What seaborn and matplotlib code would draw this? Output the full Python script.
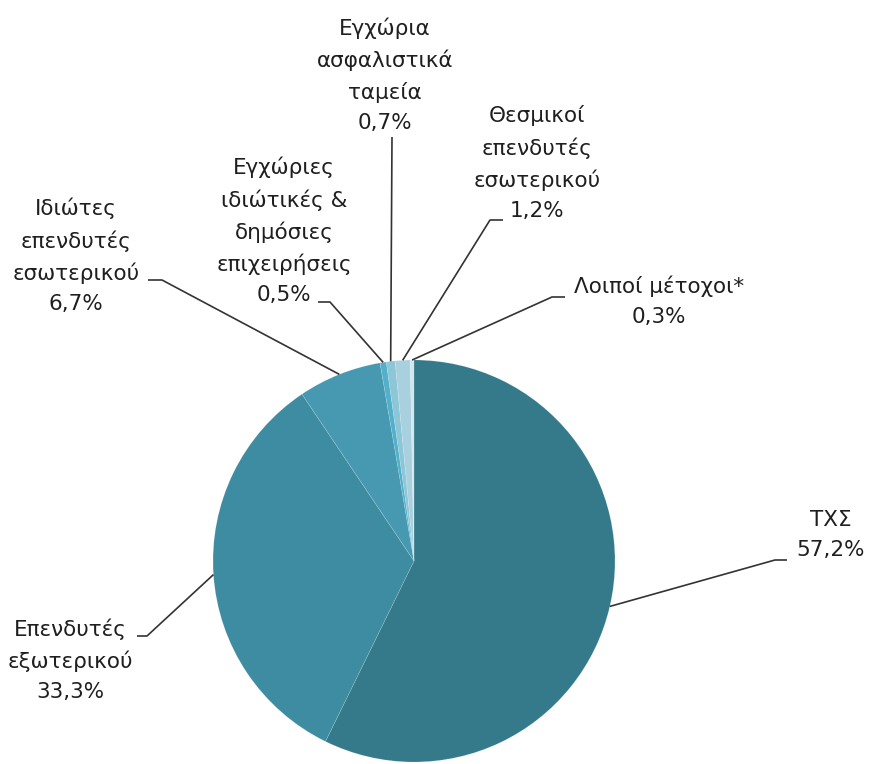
import numpy as np
import matplotlib.pyplot as plt
import seaborn as sns

# ── Data ──────────────────────────────────────────────────────────────────────
names = ['ΤΧΣ',
         'Επενδυτές\nεξωτερικού',
         'Ιδιώτες\nεπενδυτές\nεσωτερικού',
         'Εγχώριες\nιδιώτικές &\nδημόσιες\nεπιχειρήσεις',
         'Εγχώρια\nασφαλιστικά\nταμεία',
         'Θεσμικοί\nεπενδυτές\nεσωτερικού',
         'Λοιποί μέτοχοι*']
shares = [57.2, 33.3, 6.7, 0.5, 0.7, 1.2, 0.3]
colors = ['#357a8b', '#3e8ca2', '#4699b1', '#52b0cb', '#8cc6d7', '#a9d0de', '#d3e6ec']

# ── Layout (pixel coords, y from top) ────────────────────────────────────────
W, H = 869, 764
center_px = (414, 561)
radius = 201
text_pos = [(831, 535), (70, 660), (76, 256), (284, 231), (385, 75), (537, 163), (659, 301)]
# bend point of the leader and end of the short horizontal dash next to the text
bends = [(775, 560), (147, 636), (162, 280), (330, 302), (392, 137), (490, 220), (552, 297)]
dash_ends = [(787, 560), (137, 636), (148, 280), (318, 302), (392, 137), (503, 220), (565, 297)]

def fy(y):
    return H - y

sns.set_theme(style='white')
plt.rcParams['font.family'] = ['DejaVu Sans']

fig = plt.figure(figsize=(W / 100, H / 100), dpi=100)
ax = fig.add_axes([0, 0, 1, 1])

cx, cy = center_px[0], fy(center_px[1])
wedges, _ = ax.pie(shares, colors=colors, startangle=90, counterclock=False,
                   center=(cx, cy), radius=radius,
                   wedgeprops=dict(linewidth=0.5, edgecolor=(1, 1, 1, 0.18)))

for w, name, val, tp, b, d in zip(wedges, names, shares, text_pos, bends, dash_ends):
    mid = np.deg2rad((w.theta1 + w.theta2) / 2)
    ex, ey = cx + radius * np.cos(mid), cy + radius * np.sin(mid)
    ax.plot([ex, b[0], d[0]], [ey, fy(b[1]), fy(d[1])], color='#333333', lw=1.2,
            solid_capstyle='butt')
    pct = f'{val:.1f}'.replace('.', ',') + '%'
    ax.text(tp[0], fy(tp[1]), f'{name}\n{pct}', ha='center', va='center',
            multialignment='center', fontsize=15.5, color='#1f1f1f', linespacing=1.62)

ax.set_xlim(0, W)
ax.set_ylim(0, H)
ax.set_aspect('auto')
ax.axis('off')

fig.savefig('out.png', dpi=100, facecolor='white')
